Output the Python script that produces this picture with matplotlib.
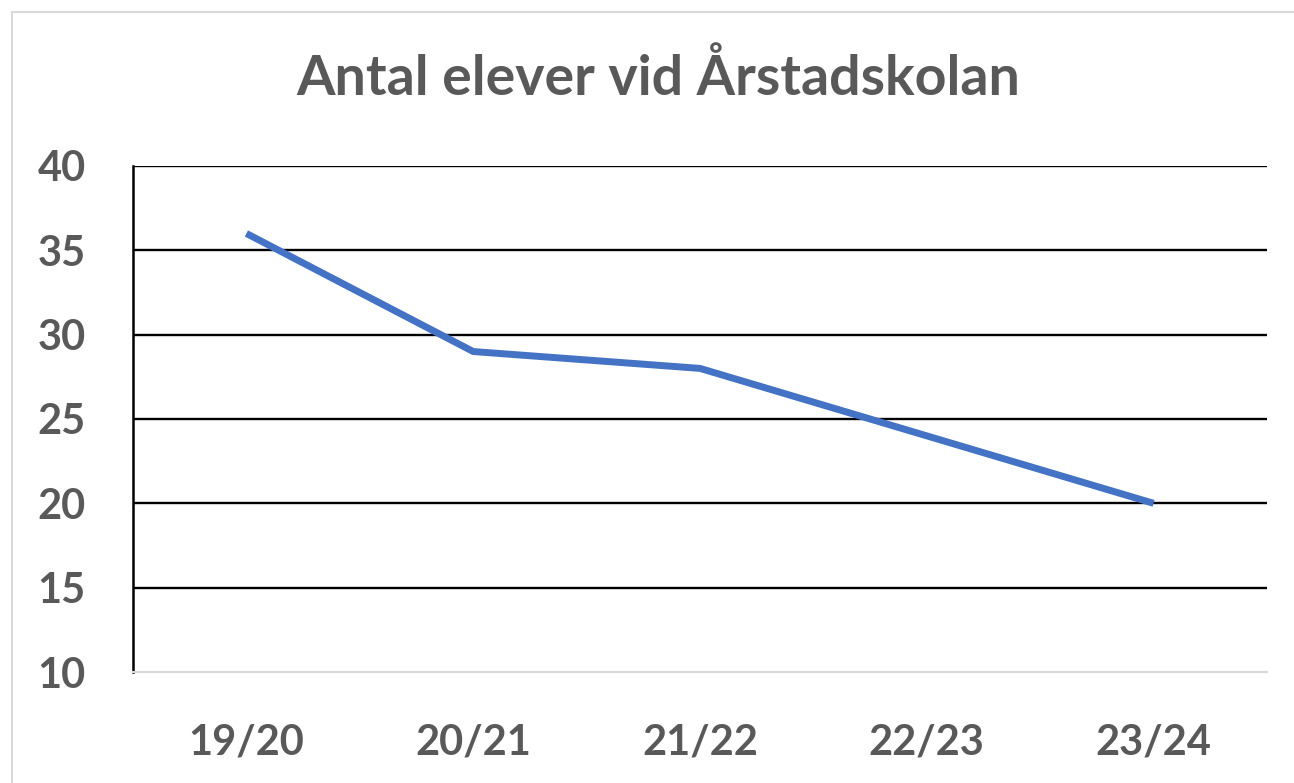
import matplotlib.pyplot as plt
from matplotlib.patches import Rectangle

# Antal elever per läsår
years = ["19/20", "20/21", "21/22", "22/23", "23/24"]
students = [36, 29, 28, 24, 20]

plt.rcParams['font.family'] = ['Lato', 'DejaVu Sans']

fig = plt.figure(figsize=(12.94, 7.83), dpi=100)
ax = fig.add_axes([133 / 1294, 1 - 672 / 783, (1267 - 133) / 1294, (672 - 166) / 783])

# ram runt hela diagrammet
fig.patches.append(Rectangle((12 / 1294, -0.01), 1.0, 1.0 - 12 / 783 + 0.01,
                             transform=fig.transFigure, fill=False,
                             edgecolor="#d9d9d9", linewidth=1.5))

x = range(len(years))
ax.plot(x, students, color="#4472C4", linewidth=5, solid_capstyle="butt")

ax.set_xlim(-0.5, len(years) - 0.5)
ax.set_ylim(10, 40)
ax.set_yticks(range(10, 41, 5))
ax.set_xticks(list(x))
ax.set_xticklabels(years)

for yv in range(15, 41, 5):
    ax.axhline(yv, color="black", linewidth=1.7, zorder=0)

for side in ["top", "right"]:
    ax.spines[side].set_visible(False)
ax.spines["left"].set_color("black")
ax.spines["left"].set_linewidth(1.8)
ax.spines["bottom"].set_color("#d9d9d9")
ax.spines["bottom"].set_linewidth(1.5)

ax.tick_params(axis="both", length=0, labelsize=30, labelcolor="#595959")
ax.tick_params(axis="y", pad=34)
ax.tick_params(axis="x", pad=37)
for lbl in ax.get_xticklabels() + ax.get_yticklabels():
    lbl.set_fontweight("bold")

fig.text(0.509, 1 - 78 / 783, "Antal elever vid Årstadskolan", ha="center", va="center",
         fontsize=40, fontweight="bold", color="#595959")

plt.savefig("out.png", dpi=100)
